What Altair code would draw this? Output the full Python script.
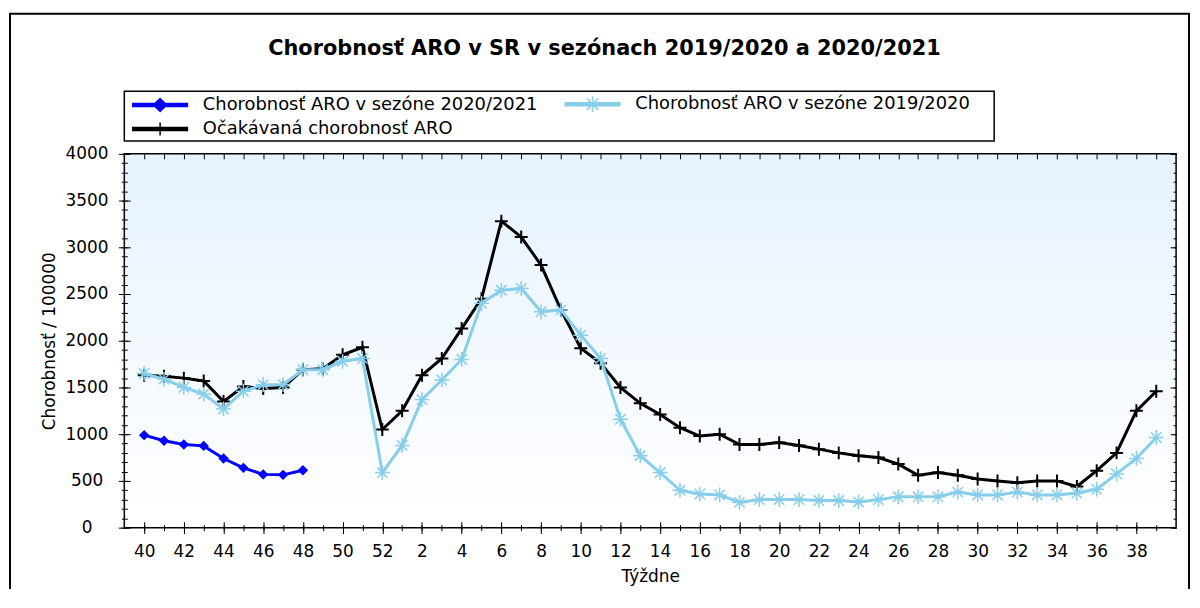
import altair as alt
import pandas as pd

# ---------------- data ----------------
weeks = [str(w) for w in list(range(40, 53)) + list(range(1, 40))]
even_weeks = [w for w in weeks if int(w) % 2 == 0]

expected = [1630, 1620, 1600, 1570, 1350, 1510, 1490, 1500, 1690, 1700, 1850, 1930, 1050,
            1250, 1630, 1810, 2130, 2450, 3280, 3110, 2810, 2330, 1920, 1760, 1500, 1330,
            1210, 1070, 980, 1000, 890, 890, 910, 880, 840, 800, 770, 750, 680, 560,
            590, 560, 520, 500, 480, 500, 500, 440, 610, 800, 1250, 1460]

season_1920 = [1650, 1590, 1500, 1430, 1270, 1460, 1530, 1530, 1690, 1690, 1780, 1810, 590,
               880, 1370, 1580, 1800, 2400, 2540, 2560, 2310, 2330, 2060, 1810, 1160, 770,
               590, 400, 360, 350, 270, 300, 300, 300, 290, 290, 275, 300, 330, 330,
               330, 380, 350, 350, 380, 350, 350, 370, 410, 575, 740, 965]

season_2021 = [990, 930, 890, 875, 740, 640, 570, 565, 615]

names = ["Chorobnosť ARO v sezóne 2020/2021",
         "Chorobnosť ARO v sezóne 2019/2020",
         "Očakávaná chorobnosť ARO"]
colors = ["#0000ff", "#87ceeb", "#000000"]

title_text = "Chorobnosť ARO v SR v sezónach 2019/2020 a 2020/2021"
x_title = "Týždne"
y_title = "Chorobnosť / 100000"

# ---------------- styling ----------------
W, H = 1058, 376
FONT = "DejaVu Sans"

ASTERISK = "M-1,0H1M0,-1V1M-0.7,-0.7L0.7,0.7M-0.7,0.7L0.7,-0.7"
PLUS = "M-1,0H1M0,-1V1"
BAR = "M-5.5,-0.3H5.5V0.3H-5.5Z"
leg_paths = [
    BAR + "M-1.3,0L0,-1.3L1.3,0L0,1.3Z",
    BAR + "M0,-1.6V1.6M-1.15,-1.15L1.15,1.15M-1.15,1.15L1.15,-1.15",
    BAR + "M0,-1.3V1.3",
]

df_exp = pd.DataFrame({"week": weeks, "value": expected, "idx": range(len(weeks))})
df_1920 = pd.DataFrame({"week": weeks, "value": season_1920, "idx": range(len(weeks))})
df_2021 = pd.DataFrame({"week": weeks[:len(season_2021)], "value": season_2021,
                        "idx": range(len(season_2021))})

xscale = alt.Scale(type="point", domain=weeks, padding=1)
yscale = alt.Scale(domain=[0, 4000], nice=False)

common = dict(domain=False, grid=False, tickColor="black", tickWidth=1, zindex=1)
v500 = list(range(0, 4001, 500))
v100 = list(range(0, 4001, 100))

x_main = alt.Axis(orient="bottom", offset=-6, tickSize=12, values=even_weeks, labelAngle=0,
                  labelFont=FONT, labelFontSize=17, labelColor="black", labelPadding=10,
                  labelOverlap=False, title=x_title, titleFont=FONT, titleFontSize=17,
                  titleFontWeight="normal", titleColor="black", titlePadding=9, **common)
x_minor = alt.Axis(orient="bottom", offset=-3, tickSize=6, values=weeks, labels=False,
                   title=None, **common)
x_top = alt.Axis(orient="top", offset=-5, tickSize=5, values=weeks, labels=False,
                 title=None, **common)
y_main = alt.Axis(orient="left", offset=-6, tickSize=12, values=v500, format="d",
                  labelAlign="center", labelPadding=32, labelFlush=False,
                  labelFont=FONT, labelFontSize=17, labelColor="black",
                  title=y_title, titleFont=FONT, titleFontSize=17, titleFontWeight="normal",
                  titleColor="black", titlePadding=7, **common)
y_minor = alt.Axis(orient="left", offset=-3, tickSize=6, values=v100, labels=False,
                   title=None, **common)
y_rmaj = alt.Axis(orient="right", offset=-6, tickSize=6, values=v500, labels=False,
                  title=None, **common)
y_rmin = alt.Axis(orient="right", offset=-3, tickSize=3, values=v100, labels=False,
                  title=None, **common)


def enc(chart, xaxis, yaxis):
    return chart.encode(
        x=alt.X("week:O", scale=xscale, axis=xaxis),
        y=alt.Y("value:Q", scale=yscale, axis=yaxis),
        order=alt.Order("idx:Q"),
    )


one = alt.Data(values=[{"a": 1}])

frame = alt.Chart(one).mark_rect(fill="transparent", stroke="black", strokeWidth=2).encode(
    x=alt.value(-115), x2=alt.value(1071), y=alt.value(-141), y2=alt.value(H + 120))
legend_box = alt.Chart(one).mark_rect(fill="white", stroke="black", strokeWidth=1.5).encode(
    x=alt.value(0), x2=alt.value(875), y=alt.value(-63), y2=alt.value(-13))
bg = alt.Chart(one).mark_rect(
    fill=alt.Gradient(gradient="linear", x1=0, y1=0, x2=0, y2=1,
                      stops=[alt.GradientStop(color="#e6f2fe", offset=0),
                             alt.GradientStop(color="#ffffff", offset=1)])
).encode(x=alt.value(0), x2=alt.value(W), y=alt.value(0), y2=alt.value(H))
title = alt.Chart(one).mark_text(text=title_text, font=FONT, fontWeight="bold", fontSize=21,
                                 align="center", baseline="alphabetic", color="black").encode(
    x=alt.value(483), y=alt.value(-99))
border = alt.Chart(one).mark_rect(fill="transparent", stroke="black", strokeWidth=1.5).encode(
    x=alt.value(0), x2=alt.value(W), y=alt.value(0), y2=alt.value(H))

exp_line = enc(alt.Chart(df_exp).mark_line(color=colors[2], strokeWidth=3), x_main, y_main)
exp_pts = enc(alt.Chart(df_exp).mark_point(shape=PLUS, size=170, strokeWidth=2, color=colors[2],
                                           filled=False, opacity=1), x_minor, y_minor)
lb_line = enc(alt.Chart(df_1920).mark_line(color=colors[1], strokeWidth=3), x_top, y_rmaj)
lb_pts = enc(alt.Chart(df_1920).mark_point(shape=ASTERISK, size=220, strokeWidth=1.5,
                                           color=colors[1], filled=False, opacity=1),
             None, y_rmin)
bl_line = enc(alt.Chart(df_2021).mark_line(color=colors[0], strokeWidth=3), None, None)
bl_pts = enc(alt.Chart(df_2021).mark_point(shape="diamond", size=110, color=colors[0],
                                           filled=True, opacity=1), None, None)

legend = alt.Legend(orient="none", legendX=27, legendY=-59, columns=2, columnPadding=24,
                    direction="horizontal",
                    rowPadding=4, labelOffset=34, labelLimit=800, labelFont=FONT,
                    labelFontSize=18, labelColor="black", symbolSize=100,
                    symbolStrokeWidth=1.5, symbolOpacity=1, title=None, padding=0)
leg_df = pd.DataFrame({"series": names})
leg_layer = alt.Chart(leg_df).transform_filter("false").mark_point(
    filled=True, opacity=1, size=100, strokeWidth=1.5).encode(
    fill=alt.Fill("series:N", scale=alt.Scale(domain=names, range=colors), legend=legend),
    stroke=alt.Stroke("series:N", scale=alt.Scale(domain=names, range=colors), legend=legend),
    shape=alt.Shape("series:N", scale=alt.Scale(domain=names, range=leg_paths), legend=legend),
)

chart = alt.layer(
    frame, legend_box, bg, title,
    exp_line, exp_pts, lb_line, lb_pts, bl_line, bl_pts,
    border, leg_layer,
).resolve_axis(x="independent", y="independent").properties(
    width=W, height=H,
    padding={"left": 117, "top": 145, "right": 16, "bottom": 60},
    autosize=alt.AutoSizeParams(type="none"),
    background="white",
).configure_view(stroke=None)

chart.save("out.html", embed_options={"renderer": "svg", "actions": False})
